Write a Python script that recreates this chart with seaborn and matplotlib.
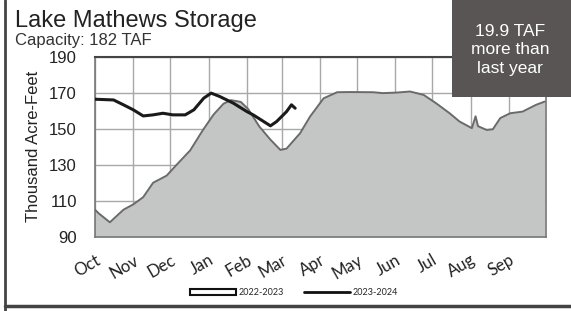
import matplotlib
matplotlib.use("Agg")
import matplotlib.pyplot as plt
import matplotlib.patches as mpatches
import matplotlib.lines as mlines
import pandas as pd
import seaborn as sns

# days since Oct 1 and storage (thousand acre-feet)
days_2223 = [0, 3, 12, 23, 31, 39, 47, 58, 66, 77, 87, 96, 104, 110, 118, 124,
             133, 142, 150, 155, 166, 174, 185, 196, 206, 225, 233, 244, 255,
             266, 276, 287, 295, 305, 308, 310, 317, 322, 328, 336, 346, 357, 364]
storage_2223 = [105, 103, 98, 105, 108, 112, 120, 124, 130, 138, 149, 158, 164,
                166, 165, 161, 151.3, 144, 138.3, 139, 147.6, 156.8, 167, 170.4,
                170.5, 170.4, 169.9, 170.2, 170.8, 168.9, 164.3, 158.7, 154.1,
                150.4, 157, 151.5, 149.4, 149.8, 156, 158.7, 159.6, 163.4, 165.2]

days_2324 = [0, 15, 23, 31, 39, 47, 55, 63, 73, 80, 88, 94, 101, 112, 123,
             128, 142, 147, 155, 159, 162]
storage_2324 = [166.5, 166.1, 163.4, 160.6, 157.2, 157.8, 158.7, 157.8, 157.8,
                160.6, 167.1, 169.9, 168, 164.3, 159.6, 157.8, 151.7, 154.1,
                159.6, 163.4, 161.5]

months = ["Oct", "Nov", "Dec", "Jan", "Feb", "Mar", "Apr", "May", "Jun", "Jul", "Aug", "Sep"]
month_len = [31, 30, 31, 31, 28, 31, 30, 31, 30, 31, 31, 30]
y_ticks = [90, 110, 130, 150, 170, 190]

df_prev = pd.DataFrame({"day": days_2223, "taf": storage_2223})
df_curr = pd.DataFrame({"day": days_2324, "taf": storage_2324})

sns.set_style("white")
plt.rcParams["font.family"] = ["Liberation Sans", "DejaVu Sans"]

fig = plt.figure(figsize=(5.71, 3.11), dpi=100)
ax = fig.add_axes([0.1664, 0.2389, 0.7898, 0.5778])

# 2022-2023 area
ax.fill_between(df_prev["day"], 90, df_prev["taf"], color="#c4c6c6", zorder=2, lw=0)
sns.lineplot(data=df_prev, x="day", y="taf", color="#6a6a6a", lw=1.4, ax=ax, zorder=3)
# 2023-2024 line
sns.lineplot(data=df_curr, x="day", y="taf", color="#1a1a1a", lw=2.2, ax=ax, zorder=4)

ticks = [0]
for m in month_len:
    ticks.append(ticks[-1] + m)
ax.set_xlim(0, 365)
ax.set_ylim(90, 190)
ax.set_xticks(ticks)
ax.set_xticklabels(months + [""], rotation=30, ha="right", rotation_mode="anchor",
                   fontsize=12, family=["Lato", "DejaVu Sans"], color="#222222")
ax.set_yticks(y_ticks)
ax.tick_params(axis="y", labelsize=12, colors="#222222", length=5, color="#888888", pad=8)
ax.tick_params(axis="x", length=3, color="#888888", pad=8)
ax.grid(True, color="#a8a8a8", lw=1.0, zorder=1)
ax.set_axisbelow(True)
ax.set_xlabel("")
ax.set_ylabel("Thousand Acre-Feet", fontsize=12, color="#222222", labelpad=6)
for side in ["left", "right", "bottom"]:
    ax.spines[side].set_color("#777777")
    ax.spines[side].set_linewidth(1.2)
ax.spines["top"].set_color("#444444")
ax.spines["top"].set_linewidth(1.5)

# legend
h1 = mpatches.Patch(facecolor="white", edgecolor="#111111", lw=1.5, label="2022-2023")
h2 = mlines.Line2D([], [], color="#111111", lw=2, label="2023-2024")
fig.legend(handles=[h1, h2], loc="center", bbox_to_anchor=(0.515, 0.058), ncol=2,
           frameon=False, prop={"family": ["Lato", "DejaVu Sans"], "size": 6.5},
           handlelength=5.0, handleheight=0.6, columnspacing=2.3, handletextpad=0.3)

# titles
fig.text(0.026, 0.913, "Lake Mathews Storage", fontsize=17, color="#222222")
fig.text(0.026, 0.855, "Capacity: 182 TAF", fontsize=12, color="#333333")

# callout box
fig.patches.append(mpatches.Rectangle((452 / 571, 1 - 97 / 311), 119 / 571, 97 / 311,
                                      transform=fig.transFigure, facecolor="#595555",
                                      edgecolor="none", zorder=5))
fig.text(510 / 571, 1 - 50 / 311, "19.9 TAF\nmore than\nlast year", ha="center", va="center",
         fontsize=12.5, color="white", linespacing=1.3, zorder=6)

# outer frame
fig.add_artist(mlines.Line2D([5 / 571, 5 / 571], [0, 1], color="#444444", lw=2))
fig.add_artist(mlines.Line2D([5 / 571, 1], [5 / 311, 5 / 311], color="#444444", lw=2.5))

fig.savefig("out.png", dpi=100)
